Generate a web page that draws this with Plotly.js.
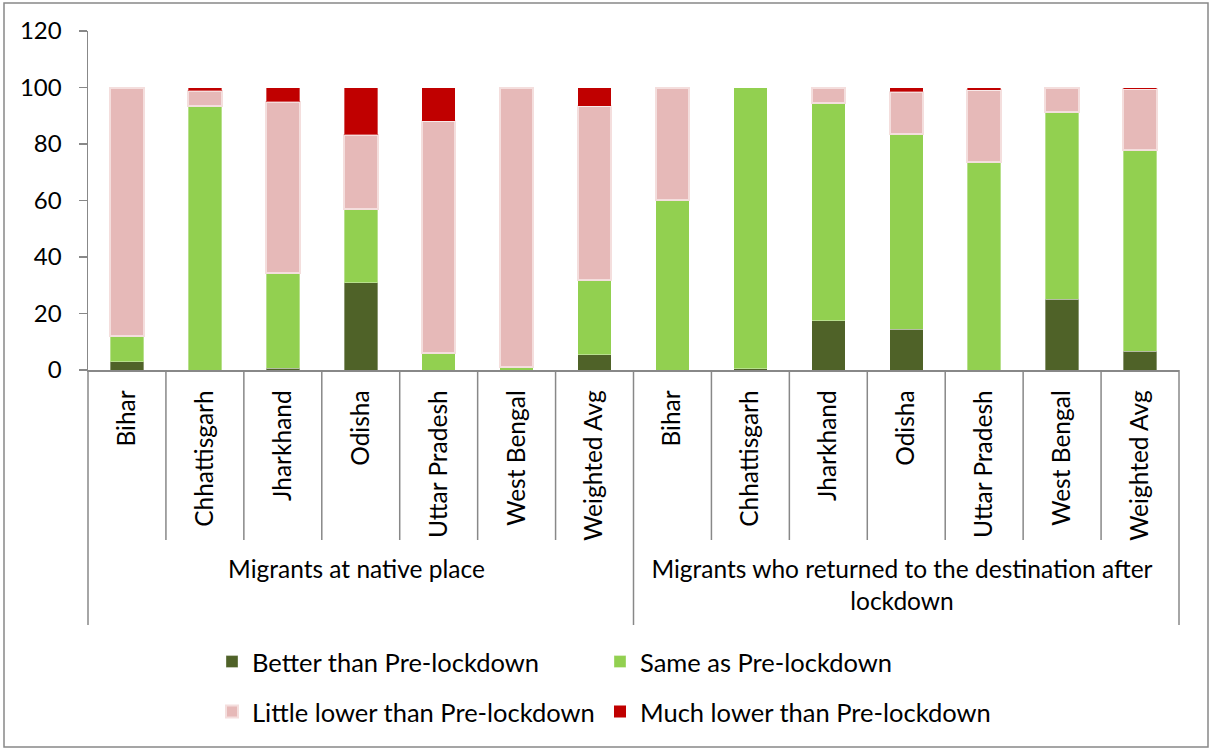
<!DOCTYPE html>
<html>
<head>
<meta charset="utf-8">
<script src="https://cdn.plot.ly/plotly-3.0.1.min.js"></script>
<style>
  html, body { margin: 0; padding: 0; background: #fff; }
  #chart { width: 1212px; height: 749px; }
</style>
</head>
<body>
<div id="chart"></div>
<script>
// ---- Data ----
const groups = ["Migrants at native place", "Migrants who returned to the destination after<br>lockdown"];
const states = ["Bihar", "Chhattisgarh", "Jharkhand", "Odisha", "Uttar Pradesh", "West Bengal", "Weighted Avg"];

const betterNative = [3.0, 0.0, 0.7, 30.8, 0.0, 0.0, 5.4];
const sameNative   = [9.1, 93.3, 33.6, 26.2, 6.0, 0.9, 26.4];
const littleNative = [87.9, 5.6, 60.6, 26.2, 82.0, 99.1, 61.5];
const muchNative   = [0.0, 1.1, 5.1, 16.8, 12.0, 0.0, 6.7];

const betterReturned = [0.0, 0.5, 17.4, 14.5, 0.0, 25.0, 6.6];
const sameReturned   = [60.2, 99.5, 77.1, 69.2, 73.8, 66.5, 71.2];
const littleReturned = [39.8, 0.0, 5.5, 14.8, 25.3, 8.5, 21.5];
const muchReturned   = [0.0, 0.0, 0.0, 1.5, 0.9, 0.0, 0.7];

const seriesNames = ["Better than Pre-lockdown", "Same as Pre-lockdown", "Little lower than Pre-lockdown", "Much lower than Pre-lockdown"];
const seriesColors = ["#4F6228", "#92D050", "#E6B9B8", "#C00000"];

// ---- Build ----
const xGroup = [], xState = [];
groups.forEach(g => states.forEach(s => { xGroup.push(g); xState.push(s); }));
const xs = [xGroup, xState];

const seriesValues = [
  betterNative.concat(betterReturned),
  sameNative.concat(sameReturned),
  littleNative.concat(littleReturned),
  muchNative.concat(muchReturned)
];

const FONT = "Lato, 'Liberation Sans', sans-serif";
const GREY = "#888888";
const legendIds = ["legend", "legend2", "legend3", "legend4"];

const traces = seriesValues.map((vals, i) => ({
  type: "bar",
  name: seriesNames[i],
  x: xs,
  y: vals,
  legend: legendIds[i],
  marker: {
    color: seriesColors[i],
    line: {
      color: i === 2 ? "#F4DEDD" : "rgba(255,255,255,0.35)",
      width: vals.map(v => v > 0 ? (i === 2 ? 2 : 1) : 0)
    }
  },
  hoverinfo: "y+name"
}));

// plot area geometry
const L = 88, R = 1179, T = 31, B = 370;
const PW = R - L, PH = B - T;
const px = x => (x - L) / PW;
const py = y => (B - y) / PH;

const n = states.length * groups.length;
const shapes = [];
// inner category dividers
for (let k = 1; k < n; k++) {
  if (k % states.length === 0) continue;
  shapes.push({ type: "line", xref: "paper", yref: "paper",
    x0: k / n, x1: k / n, y0: 0, y1: py(540),
    line: { color: GREY, width: 1.5 } });
}
// group dividers
for (let k = 0; k <= n; k += states.length) {
  shapes.push({ type: "line", xref: "paper", yref: "paper",
    x0: k / n, x1: k / n, y0: 0, y1: py(625),
    line: { color: GREY, width: 1.5 } });
}
// outer chart border
shapes.push({ type: "rect", xref: "paper", yref: "paper",
  x0: px(4), x1: px(1208), y0: py(747), y1: py(3),
  line: { color: GREY, width: 1.5 }, fillcolor: "rgba(0,0,0,0)" });

const legendPos = [[212, 662], [600, 662], [212, 712], [600, 712]];
function mkLegend(p) {
  return {
    orientation: "h",
    x: px(p[0]), xanchor: "left",
    y: py(p[1]), yanchor: "middle",
    font: { family: FONT, size: 25.5, color: "#000" },
    bgcolor: "rgba(0,0,0,0)"
  };
}

const layout = {
  width: 1212, height: 749,
  margin: { l: L, r: 1212 - R, t: T, b: 749 - B, pad: 0 },
  paper_bgcolor: "#ffffff",
  plot_bgcolor: "#ffffff",
  font: { family: FONT, color: "#000000", size: 24 },
  barmode: "stack",
  bargap: 0.57,
  showlegend: true,
  xaxis: {
    type: "multicategory",
    tickangle: -90,
    tickfont: { family: FONT, size: 24.5, color: "#000" },
    ticklabelstandoff: 9,
    ticks: "",
    showline: true, linecolor: GREY, linewidth: 1.5,
    showdividers: false,
    showgrid: false, zeroline: false,
    fixedrange: true
  },
  yaxis: {
    range: [0, 120],
    dtick: 20,
    ticks: "outside", ticklen: 8, tickcolor: GREY, tickwidth: 1.5,
    ticklabelstandoff: 12,
    tickfont: { family: FONT, size: 24, color: "#000" },
    showline: true, linecolor: GREY, linewidth: 1.5,
    showgrid: false, zeroline: false,
    fixedrange: true
  },
  shapes: shapes
};
legendIds.forEach((id, i) => { layout[id] = mkLegend(legendPos[i]); });

Plotly.newPlot("chart", traces, layout, { displayModeBar: false, staticPlot: true });
</script>
</body>
</html>
